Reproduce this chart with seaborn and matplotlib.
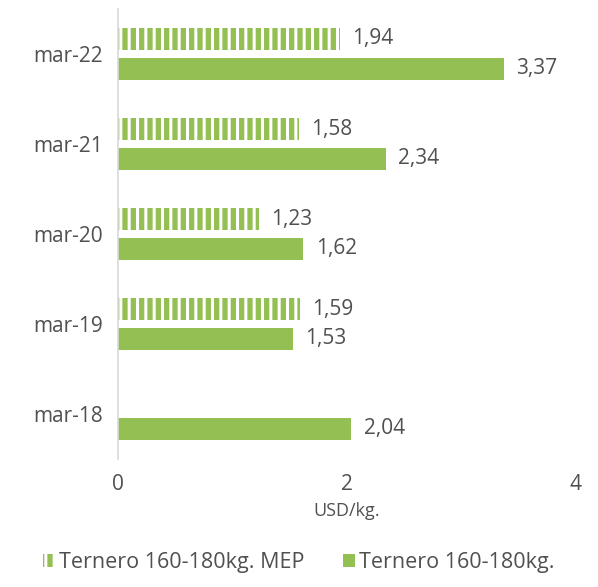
import matplotlib
matplotlib.use("Agg")
import matplotlib.pyplot as plt
from matplotlib.patches import Patch
import seaborn as sns
import pandas as pd
import numpy as np

# datos del grafico
fechas = ["mar-22", "mar-21", "mar-20", "mar-19", "mar-18"]
ternero_mep = [1.94, 1.58, 1.23, 1.59, np.nan]  # mar-18 sin dato MEP
ternero = [3.37, 2.34, 1.62, 1.53, 2.04]
serie_mep = "Ternero 160-180kg. MEP"
serie = "Ternero 160-180kg."

verde = "#93bf53"
gris_txt = "#505050"

df = pd.DataFrame({
    "fecha": fechas * 2,
    "valor": ternero_mep + ternero,
    "serie": [serie_mep] * len(fechas) + [serie] * len(fechas),
})

sns.set_style("white")
plt.rcParams["font.family"] = ["Open Sans", "DejaVu Sans"]
plt.rcParams["hatch.linewidth"] = 2.2

fs = 15

fig = plt.figure(figsize=(5.98, 5.87), dpi=100)
ax = fig.add_axes([0.197, 0.218, 0.766, 0.767])

sns.barplot(data=df, x="valor", y="fecha", hue="serie", order=fechas,
            hue_order=[serie_mep, serie], palette=[verde, verde], saturation=1,
            width=0.66, gap=0.26, orient="h", ax=ax, legend=False)

# rayas verticales blancas para la serie MEP
for p in ax.containers[0]:
    if p is None:
        continue
    p.set_hatch("||")
    p.set_edgecolor("white")
    p.set_linewidth(0)
for p in ax.containers[1]:
    if p is not None:
        p.set_edgecolor("none")

# etiquetas de valor con coma decimal
for cont in ax.containers:
    for p in cont:
        if p is None:
            continue
        w = p.get_width()
        if np.isnan(w):
            continue
        yc = p.get_y() + p.get_height() / 2
        ax.annotate(f"{w:.2f}".replace(".", ","), (w, yc), xytext=(9, 0),
                    textcoords="offset points", va="center", ha="left",
                    fontsize=fs, color=gris_txt)

ax.set_xlim(0, 4)
ax.set_ylim(4.5, -0.5)
ax.set_xticks([0, 2, 4])
ax.set_xticklabels(["0", "2", "4"])
ax.set_xlabel("USD/kg.", fontsize=13, color=gris_txt, labelpad=5)
ax.set_ylabel("")
ax.tick_params(axis="both", length=0, labelsize=fs, labelcolor=gris_txt)
ax.tick_params(axis="x", pad=11)
ax.tick_params(axis="y", pad=11)

for s in ["top", "right", "bottom"]:
    ax.spines[s].set_visible(False)
ax.spines["left"].set_color("#d9d9d9")
ax.spines["left"].set_linewidth(1.2)

handles = [Patch(facecolor=verde, edgecolor="white", hatch="||", linewidth=0, label=serie_mep),
           Patch(facecolor=verde, edgecolor="none", label=serie)]
leg = fig.legend(handles=handles, loc="lower center", bbox_to_anchor=(0.5, -0.01), ncol=2,
                 frameon=False, fontsize=15.5, handlelength=0.55, handleheight=0.55,
                 handletextpad=0.2, columnspacing=1.8)
for t in leg.get_texts():
    t.set_color(gris_txt)

fig.savefig("out.png", dpi=100)
